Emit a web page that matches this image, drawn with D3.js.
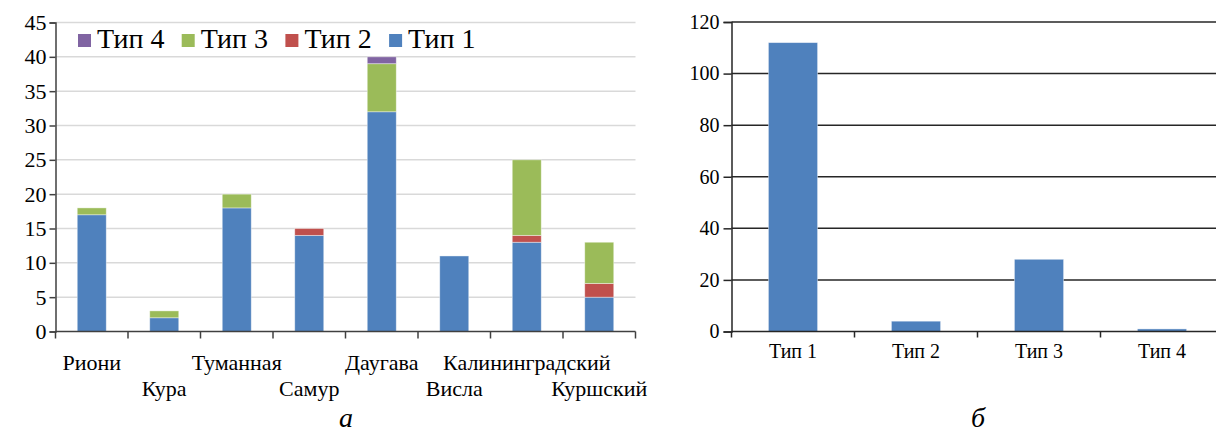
<!DOCTYPE html>
<html>
<head>
<meta charset="utf-8">
<script src="https://cdn.jsdelivr.net/npm/d3@7"></script>
<style>
  body { margin: 0; background: #fff; }
  svg text { font-family: "Liberation Serif", "Times New Roman", "DejaVu Serif", serif !important; fill: #000; }
</style>
</head>
<body>
<div id="chart-area"></div>
<script>
// data: left panel (stacked by river), right panel (totals by type)
var rivers = ["Риони", "Кура", "Туманная", "Самур", "Даугава", "Висла", "Калининградский", "Куршский"];
var type1 = [17, 2, 18, 14, 32, 11, 13, 5];
var type2 = [0, 0, 0, 1, 0, 0, 1, 2];
var type3 = [1, 1, 2, 0, 7, 0, 11, 6];
var type4 = [0, 0, 0, 0, 1, 0, 0, 0];
var typeNames = ["Тип 1", "Тип 2", "Тип 3", "Тип 4"];
var typeTotals = [112, 4, 28, 1];
var leftTicks = [0, 5, 10, 15, 20, 25, 30, 35, 40, 45];
var rightTicks = [0, 20, 40, 60, 80, 100, 120];

var colors = ["#4F81BD", "#C0504D", "#9BBB59", "#8064A2"];
var serif = '"Liberation Serif", "Times New Roman", serif';

var width = 1216;
var height = 434;

var svg = d3.select('#chart-area')
    .append('svg')
        .attr('width', width)
        .attr('height', height);

// ---------- left panel ----------
var x = d3.scaleBand()
    .domain(rivers)
    .range([55.5, 635.5])
    .paddingInner(0.6)
    .paddingOuter(0.3);

var y = d3.scaleLinear()
    .domain([0, 45])
    .range([331.5, 22.5]);

var left = svg.append("g");

left.selectAll("line.grid").data(leftTicks.slice(1)).enter()
    .append("line")
    .attr("class", "grid")
    .attr("x1", 55.5).attr("x2", 635.5)
    .attr("y1", (d) => y(d)).attr("y2", (d) => y(d))
    .attr("stroke", "#D9D9D9")
    .attr("stroke-width", 1.5);

var rows = rivers.map((r, i) => {
    return {river: r, t1: type1[i], t2: type2[i], t3: type3[i], t4: type4[i]};
});
var stack = d3.stack().keys(["t1", "t2", "t3", "t4"])(rows);

left.selectAll("g.series").data(stack).enter()
    .append("g")
    .attr("fill", (d, i) => colors[i])
    .selectAll("rect").data((d) => d.filter((p) => p[1] > p[0])).enter()
    .append("rect")
    .attr("x", (d) => x(d.data.river))
    .attr("y", (d) => y(d[1]))
    .attr("width", x.bandwidth())
    .attr("height", (d) => y(d[0]) - y(d[1]))
    .attr("stroke", "#fff")
    .attr("stroke-opacity", 0.5)
    .attr("stroke-width", 0.8);

var yAxis = d3.axisLeft(y).tickValues(leftTicks).tickSize(6).tickPadding(3);
var ya = left.append("g")
    .attr("transform", "translate(55.5, 0)")
    .call(yAxis)
    .attr("font-family", serif);
ya.select(".domain").attr("stroke", "#404040").attr("stroke-width", 1.5);
ya.selectAll(".tick line").attr("stroke", "#404040").attr("stroke-width", 1.5);
ya.selectAll("text").style("font-size", "22px").style("font-family", serif).attr("fill", "#000");

// x baseline and category boundary ticks
left.append("line")
    .attr("x1", 55.5).attr("x2", 635.5)
    .attr("y1", y(0)).attr("y2", y(0))
    .attr("stroke", "#404040").attr("stroke-width", 1.5);

var bounds = d3.range(rivers.length + 1).map((i) => 55.5 + i * x.step());
left.selectAll("line.xtick").data(bounds).enter()
    .append("line")
    .attr("x1", (d) => d).attr("x2", (d) => d)
    .attr("y1", y(0)).attr("y2", y(0) + 7)
    .attr("stroke", "#404040").attr("stroke-width", 1.5);

left.selectAll("text.cat").data(rivers).enter()
    .append("text")
    .attr("x", (d) => x(d) + x.bandwidth() / 2)
    .attr("y", (d, i) => i % 2 === 0 ? 370 : 396)
    .attr("text-anchor", "middle")
    .style("font-size", "22px")
    .text((d) => d);

// legend (reverse order)
var legendOrder = [3, 2, 1, 0];
var lg = left.selectAll("g.legend").data(legendOrder).enter()
    .append("g")
    .attr("transform", (d, i) => "translate(" + (78 + i * 103.7) + ", 34)");
lg.append("rect")
    .attr("width", 13).attr("height", 13)
    .attr("fill", (d) => colors[d]);
lg.append("text")
    .attr("x", 19).attr("y", 13.5)
    .style("font-size", "28px")
    .text((d) => typeNames[d]);

left.append("text")
    .attr("x", 346).attr("y", 427)
    .attr("text-anchor", "middle")
    .style("font-size", "28px")
    .style("font-style", "italic")
    .text("а");

// ---------- right panel ----------
var x2 = d3.scaleBand()
    .domain(typeNames)
    .range([731.5, 1223.5])
    .paddingInner(0.6)
    .paddingOuter(0.3);

var y2 = d3.scaleLinear()
    .domain([0, 120])
    .range([331.5, 22]);

var right = svg.append("g");

right.selectAll("line.grid").data(rightTicks.slice(1)).enter()
    .append("line")
    .attr("x1", 731.5).attr("x2", 1216)
    .attr("y1", (d) => y2(d)).attr("y2", (d) => y2(d))
    .attr("stroke", "#262626")
    .attr("stroke-width", 1.5);

right.selectAll("rect").data(typeNames).enter()
    .append("rect")
    .attr("x", (d) => x2(d))
    .attr("y", (d, i) => y2(typeTotals[i]))
    .attr("width", x2.bandwidth())
    .attr("height", (d, i) => y2(0) - y2(typeTotals[i]))
    .attr("fill", colors[0])
    .attr("stroke", "#fff")
    .attr("stroke-opacity", 0.5)
    .attr("stroke-width", 0.8);

var yAxis2 = d3.axisLeft(y2).tickValues(rightTicks).tickSize(8).tickPadding(4);
var ya2 = right.append("g")
    .attr("transform", "translate(731.5, 0)")
    .call(yAxis2)
    .attr("font-family", serif);
ya2.select(".domain").attr("stroke", "#262626").attr("stroke-width", 1.5);
ya2.selectAll(".tick line").attr("stroke", "#262626").attr("stroke-width", 1.5);
ya2.selectAll("text").style("font-size", "20px").style("font-family", serif).attr("fill", "#000");

right.append("line")
    .attr("x1", 731.5).attr("x2", 1216)
    .attr("y1", y2(0)).attr("y2", y2(0))
    .attr("stroke", "#262626").attr("stroke-width", 1.5);

var bounds2 = d3.range(typeNames.length).map((i) => 731.5 + i * x2.step());
right.selectAll("line.xtick").data(bounds2).enter()
    .append("line")
    .attr("x1", (d) => d).attr("x2", (d) => d)
    .attr("y1", y2(0)).attr("y2", y2(0) + 6)
    .attr("stroke", "#262626").attr("stroke-width", 1.5);

right.selectAll("text.cat").data(typeNames).enter()
    .append("text")
    .attr("x", (d) => x2(d) + x2.bandwidth() / 2)
    .attr("y", 358)
    .attr("text-anchor", "middle")
    .style("font-size", "20px")
    .text((d) => d);

right.append("text")
    .attr("x", 978).attr("y", 427)
    .attr("text-anchor", "middle")
    .style("font-size", "28px")
    .style("font-style", "italic")
    .text("б");
</script>
</body>
</html>
